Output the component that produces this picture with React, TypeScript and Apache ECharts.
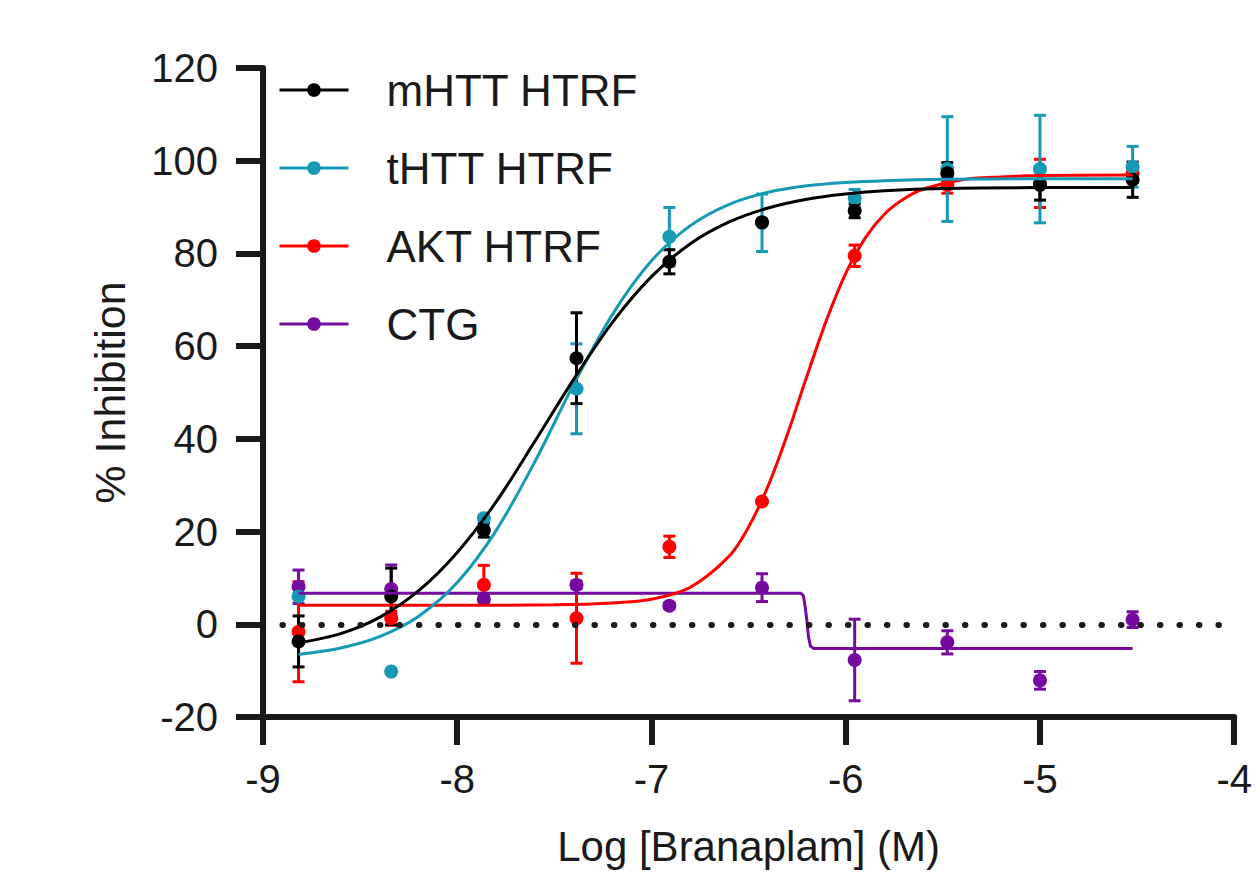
import React, { useEffect, useRef } from "react";
import * as echarts from "echarts";

// log10 of Branaplam concentration (M), 3-fold dilution series
const logConc = [-8.817, -8.34, -7.863, -7.386, -6.908, -6.431, -5.954, -5.477, -5.0, -4.523];

// mean % inhibition and SEM per assay
const mhttMean = [-3.7, 6.0, 20.3, 57.4, 78.2, 86.7, 89.2, 97.3, 94.8, 95.9];
const mhttSem = [5.5, 6.1, 1.5, 9.8, 2.6, 0, 1.5, 2.3, 3.3, 3.8];
const thttMean = [6.0, -10.2, 22.9, 50.8, 83.6, 86.6, 91.9, 98.2, 98.2, 98.7];
const thttSem = [0, 0, 0, 9.7, 6.3, 6.2, 1.9, 11.3, 11.6, 4.4];
const aktMean = [-1.6, 1.3, 8.5, 1.3, 16.7, 26.5, 79.5, 94.8, 95.1, 97.3];
const aktSem = [10.8, 1.5, 4.2, 9.7, 2.3, 0, 2.3, 1.8, 5.2, 1.0];
const ctgMean = [8.1, 7.6, 5.4, 8.5, 4.0, 7.9, -7.7, -3.9, -12.1, 1.0];
const ctgSem = [3.6, 5.2, 1.0, 0.8, 0.6, 3.0, 8.8, 2.5, 1.9, 1.7];

// fitted curves
const mhttFitX = [-8.817, -8.6, -8.4, -8.2, -8.0, -7.8, -7.6, -7.4, -7.2, -7.0, -6.8, -6.6, -6.4, -6.2, -6.0, -5.8, -5.5, -5.0, -4.523];
const mhttFitY = [-4.0, -2.0, 1.5, 7.2, 15.5, 26.4, 39.5, 52.9, 65.2, 75.0, 82.1, 86.8, 89.8, 91.7, 92.8, 93.5, 94.0, 94.2, 94.2];
const thttFitX = [-8.817, -8.6, -8.4, -8.2, -8.0, -7.8, -7.6, -7.4, -7.2, -7.0, -6.8, -6.6, -6.4, -6.2, -6.0, -5.8, -5.5, -5.0, -4.523];
const thttFitY = [-6.5, -5.1, -2.65, 1.7, 9.0, 20.2, 35.1, 51.8, 66.9, 78.4, 86.0, 90.6, 93.2, 94.6, 95.3, 95.7, 96.0, 96.1, 96.1];
const aktFitX = [-8.817, -8.0, -7.5, -7.2, -7.0, -6.8, -6.6, -6.5, -6.4, -6.3, -6.2, -6.1, -6.0, -5.9, -5.8, -5.7, -5.6, -5.4, -5.2, -5.0, -4.523];
const aktFitY = [4.1, 4.1, 4.2, 4.6, 5.4, 8.0, 14.7, 21.0, 29.8, 41.0, 53.5, 65.5, 75.7, 83.3, 88.5, 91.8, 93.9, 95.9, 96.5, 96.8, 96.9];
const ctgFitX = [-8.817, -6.232, -6.218, -6.208, -6.2, -6.192, -6.182, -6.166, -4.523];
const ctgFitY = [6.7, 6.7, 6.2, 3.5, 0.8, -2.6, -4.7, -5.2, -5.2];

const seriesNames = ["mHTT HTRF", "tHTT HTRF", "AKT HTRF", "CTG"];
const xTicks = { min: -9, max: -4, interval: 1 };
const yTicks = { min: -20, max: 120, interval: 20 };
const zeroLineX = [-8.9, -4];

const FONT = "'Liberation Sans', Arial, Helvetica, sans-serif";
const INK = "#1a1a1a";

const zip = (a: number[], b: number[]) => a.map((v, i) => [v, b[i]]);

const sets = [
  { name: "CTG", color: "#760aa0", mean: ctgMean, sem: ctgSem, fx: ctgFitX, fy: ctgFitY, smooth: false as any },
  { name: "AKT HTRF", color: "#ff0000", mean: aktMean, sem: aktSem, fx: aktFitX, fy: aktFitY, smooth: 0.3 },
  { name: "tHTT HTRF", color: "#1599b4", mean: thttMean, sem: thttSem, fx: thttFitX, fy: thttFitY, smooth: 0.3 },
  { name: "mHTT HTRF", color: "#000000", mean: mhttMean, sem: mhttSem, fx: mhttFitX, fy: mhttFitY, smooth: 0.3 },
];

function buildSeries() {
  const out: any[] = [];
  sets.forEach((s, idx) => {
    const color = s.color;
    out.push({
      name: s.name + " SEM",
      type: "custom",
      data: logConc.map((x, i) => [x, s.mean[i], s.sem[i]]),
      encode: { x: 0, y: 1 },
      renderItem: (params: any, api: any) => {
        const x = api.value(0);
        const y = api.value(1);
        const e = api.value(2);
        if (!e) return { type: "group", children: [] };
        const top = api.coord([x, y + e]);
        const bot = api.coord([x, y - e]);
        const w = 6;
        const st = { stroke: color, lineWidth: 3 };
        return {
          type: "group",
          children: [
            { type: "line", shape: { x1: top[0], y1: top[1], x2: bot[0], y2: bot[1] }, style: st },
            { type: "line", shape: { x1: top[0] - w, y1: top[1], x2: top[0] + w, y2: top[1] }, style: st },
            { type: "line", shape: { x1: bot[0] - w, y1: bot[1], x2: bot[0] + w, y2: bot[1] }, style: st },
          ],
        };
      },
      silent: true,
    });
    const line: any = {
      name: s.name,
      type: "line",
      data: zip(s.fx, s.fy),
      showSymbol: false,
      symbol: "circle",
      smooth: s.smooth,
      color,
      lineStyle: { color, width: 3 },
      itemStyle: { color, opacity: 1 },
      silent: true,
    };
    if (idx === 0) {
      line.markLine = {
        silent: true,
        symbol: ["none", "none"],
        label: { show: false },
        lineStyle: { color: INK, width: 6, type: [0.5, 19], cap: "round", opacity: 1 },
        data: [[{ coord: [zeroLineX[0], 0] }, { coord: [zeroLineX[1], 0] }]],
      };
    }
    out.push(line);
    out.push({
      name: s.name + " mean",
      type: "scatter",
      data: zip(logConc, s.mean),
      symbol: "circle",
      symbolSize: 14,
      itemStyle: { color, opacity: 1 },
      silent: true,
    });
  });
  return out;
}

export default function App() {
  const ref = useRef<HTMLDivElement>(null);
  useEffect(() => {
    const chart = echarts.init(ref.current!, null, { renderer: "svg" });
    chart.setOption({
      animation: false,
      backgroundColor: "#ffffff",
      textStyle: { fontFamily: FONT },
      grid: { left: 263, right: 17, top: 68, bottom: 156, containLabel: false },
      legend: {
        data: seriesNames,
        orient: "vertical",
        left: 278,
        top: 68,
        padding: 0,
        itemWidth: 69,
        itemHeight: 17,
        itemGap: 34,
        selectedMode: false,
        lineStyle: { width: 3 },
        itemStyle: { opacity: 1 },
        textStyle: { fontSize: 44, color: INK, fontFamily: FONT, padding: [0, 0, 0, 33] },
      },
      xAxis: {
        type: "value",
        min: xTicks.min,
        max: xTicks.max,
        interval: xTicks.interval,
        name: "Log [Branaplam] (M)",
        nameLocation: "middle",
        nameGap: 108,
        nameTextStyle: { fontSize: 42, color: INK, fontFamily: FONT },
        axisLine: { onZero: false, lineStyle: { color: INK, width: 6 } },
        axisTick: { inside: false, length: 28, lineStyle: { color: INK, width: 6 } },
        axisLabel: { fontSize: 40, color: INK, margin: 42, fontFamily: FONT },
        splitLine: { show: false },
      },
      yAxis: {
        type: "value",
        min: yTicks.min,
        max: yTicks.max,
        interval: yTicks.interval,
        name: "% Inhibition",
        nameLocation: "middle",
        nameGap: 132,
        nameRotate: 90,
        nameTextStyle: { fontSize: 43, color: INK, fontFamily: FONT },
        axisLine: { onZero: false, lineStyle: { color: INK, width: 6 } },
        axisTick: { inside: false, length: 27, lineStyle: { color: INK, width: 6 } },
        axisLabel: { fontSize: 40, color: INK, margin: 45, fontFamily: FONT },
        splitLine: { show: false },
      },
      series: buildSeries(),
    });
    return () => chart.dispose();
  }, []);
  return (
    <div
      ref={ref}
      style={{ position: "fixed", left: 0, top: 0, width: 1255, height: 873, background: "#fff" }}
    />
  );
}
